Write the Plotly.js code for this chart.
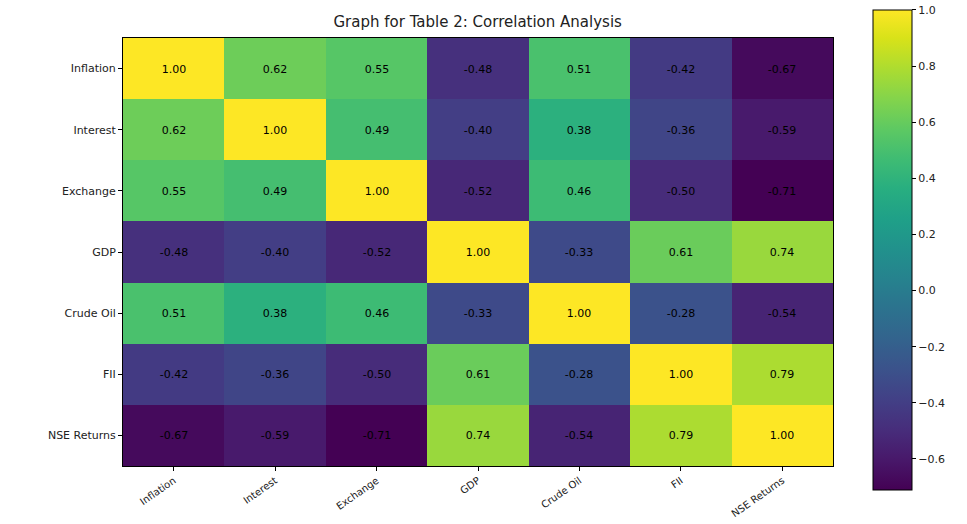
<!DOCTYPE html>
<html>
<head>
<meta charset="utf-8">
<script src="https://cdn.plot.ly/plotly-3.0.1.min.js"></script>
<style>html,body{margin:0;padding:0;background:#fff;}#chart{width:967px;height:524px;}</style>
</head>
<body>
<div id="chart"></div>
<script>
const variables = ["Inflation", "Interest", "Exchange", "GDP", "Crude Oil", "FII", "NSE Returns"];
const rowInflation = [1.00, 0.62, 0.55, -0.48, 0.51, -0.42, -0.67];
const rowInterest  = [0.62, 1.00, 0.49, -0.40, 0.38, -0.36, -0.59];
const rowExchange  = [0.55, 0.49, 1.00, -0.52, 0.46, -0.50, -0.71];
const rowGDP       = [-0.48, -0.40, -0.52, 1.00, -0.33, 0.61, 0.74];
const rowCrudeOil  = [0.51, 0.38, 0.46, -0.33, 1.00, -0.28, -0.54];
const rowFII       = [-0.42, -0.36, -0.50, 0.61, -0.28, 1.00, 0.79];
const rowNSE       = [-0.67, -0.59, -0.71, 0.74, -0.54, 0.79, 1.00];
const colorbarTicks = [-0.6, -0.4, -0.2, 0.0, 0.2, 0.4, 0.6, 0.8, 1.0];

const z = [rowInflation, rowInterest, rowExchange, rowGDP, rowCrudeOil, rowFII, rowNSE];
const text = z.map(r => r.map(v => v.toFixed(2)));
const zmin = Math.min(...z.flat());

const font = "DejaVu Sans, sans-serif";
const trace = {
  type: "heatmap",
  x: variables, y: variables, z: z,
  text: text, texttemplate: "%{text}",
  textfont: {family: font, size: 11, color: "#000"},
  colorscale: "Viridis", zmin: zmin, zmax: 1,
  xgap: 0, ygap: 0,
  colorbar: {
    thickness: 39, thicknessmode: "pixels",
    len: 480, lenmode: "pixels",
    x: 1.056, xanchor: "left", xpad: 0,
    y: 0.505, yanchor: "middle", ypad: 0,
    outlinewidth: 1, outlinecolor: "#000",
    tickvals: colorbarTicks,
    ticktext: colorbarTicks.map(v => (v < 0 ? "\u2212" : "") + Math.abs(v).toFixed(1)),
    ticks: "outside", ticklen: 4, tickcolor: "#000",
    tickfont: {family: font, size: 11, color: "#222"}
  }
};
const layout = {
  width: 967, height: 524,
  margin: {l: 123, r: 134, t: 38, b: 58},
  paper_bgcolor: "#fff", plot_bgcolor: "#fff",
  title: {text: "Graph for Table 2: Correlation Analysis", font: {family: font, size: 15, color: "#222"}, x: 0.494, xanchor: "center", y: 0.958, yanchor: "middle"},
  xaxis: {tickangle: -35, ticks: "outside", ticklen: 4, tickcolor: "#000",
          tickfont: {family: font, size: 10, color: "#222"},
          showline: true, linecolor: "#000", linewidth: 1, mirror: true, showgrid: false, zeroline: false},
  yaxis: {autorange: "reversed", ticks: "outside", ticklen: 4, tickcolor: "#000",
          tickfont: {family: font, size: 11, color: "#222"},
          showline: true, linecolor: "#000", linewidth: 1, mirror: true, showgrid: false, zeroline: false}
};
Plotly.newPlot("chart", [trace], layout, {displayModeBar: false, staticPlot: true});
</script>
</body>
</html>
